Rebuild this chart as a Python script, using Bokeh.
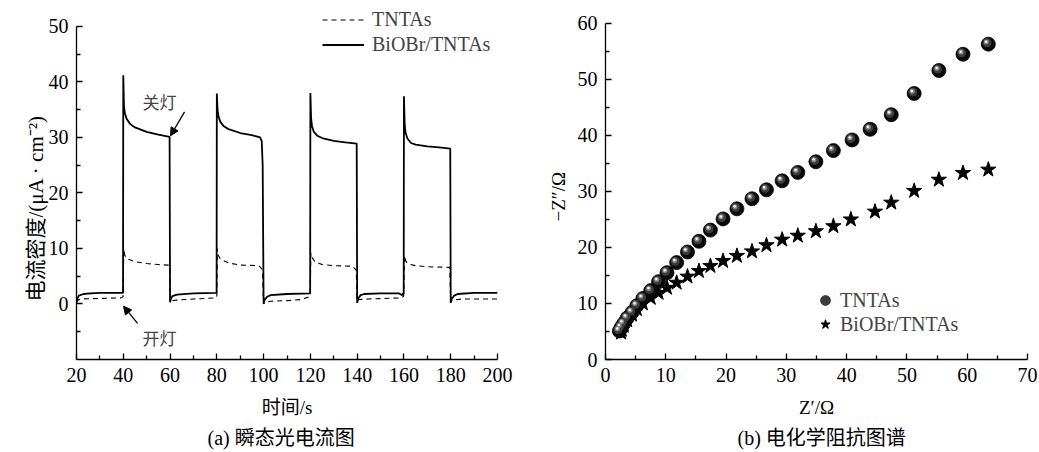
from bokeh.plotting import figure
from bokeh.layouts import row
from bokeh.models import (Range1d, FixedTicker, Legend, LegendItem, Label,
                          Arrow, NormalHead, ColumnDataSource, Title)
from bokeh.transform import dodge
from bokeh.embed import file_html
from bokeh.resources import INLINE

# ---------------- data: (a) transient photocurrent ----------------
t_biobr = [20, 20.4, 21, 23, 26, 30, 39.9,
           40.0, 40.3, 40.7, 41.5, 43, 45, 50, 55, 59.8,
           60.0, 60.3, 61, 63, 70, 79.9,
           80.0, 80.3, 80.7, 81.5, 83, 85, 90, 95, 98.5, 99.2, 99.6,
           100.0, 100.5, 101.5, 103, 110, 119.9,
           120.0, 120.3, 120.7, 121.5, 123, 125, 130, 135, 139.8,
           140.0, 140.4, 141.5, 143, 150, 158, 159.2, 159.9,
           160.0, 160.3, 160.7, 161.5, 163, 165, 170, 175, 179.8,
           180.0, 180.4, 181.5, 183, 190, 200]
j_biobr = [0.2, 1.0, 1.5, 1.8, 1.9, 2.0, 2.0,
           41.2, 35.5, 34.3, 33.3, 32.4, 31.8, 31.0, 30.5, 30.1,
           0.3, 0.9, 1.4, 1.7, 1.9, 2.0,
           37.9, 35.0, 33.8, 32.8, 32.0, 31.5, 30.8, 30.4, 30.0, 29.3, 25.0,
           0.1, 0.8, 1.3, 1.6, 1.8, 1.9,
           38.0, 33.5, 32.0, 31.0, 30.3, 29.9, 29.4, 29.1, 28.9,
           0.2, 1.0, 1.6, 1.8, 1.9, 1.9, 1.6, 2.0,
           37.4, 32.5, 30.8, 29.8, 29.0, 28.7, 28.4, 28.2, 28.0,
           0.2, 0.9, 1.5, 1.8, 2.0, 2.0]

t_tntas = [20, 20.5, 22, 30, 39, 39.9,
           40.2, 40.6, 41.5, 45, 50, 55, 59.3, 59.8,
           60.1, 60.6, 63, 70, 79.5, 80.0,
           80.2, 80.6, 81.5, 85, 90, 98, 99.5,
           100.0, 100.6, 103, 110, 116, 119, 119.9,
           120.2, 120.8, 122, 125, 130, 138, 139.6,
           140.0, 140.6, 145, 159, 159.9,
           160.2, 160.8, 162, 165, 170, 179.6,
           180.0, 180.6, 185, 200]
j_tntas = [0.3, 0.7, 0.9, 1.0, 1.1, 1.3,
           9.9, 8.8, 8.2, 7.6, 7.3, 7.1, 7.0, 6.2,
           0.3, 0.6, 0.7, 0.9, 1.1, 1.5,
           10.0, 8.8, 8.1, 7.4, 7.0, 6.9, 6.2,
           0.0, 0.3, 0.5, 0.6, 0.8, 1.2, 1.7,
           9.2, 8.3, 7.6, 7.1, 6.9, 6.8, 6.1,
           0.5, 0.8, 0.9, 1.1, 1.4,
           8.7, 7.7, 7.2, 6.9, 6.7, 6.6,
           0.3, 0.7, 0.9, 0.9]

# ---------------- data: (b) EIS Nyquist ----------------
zr_tntas = [2.3, 2.6, 3.0, 3.6, 4.4, 5.2, 6.2, 7.5, 8.8, 10.2, 11.8, 13.6,
            15.5, 17.4, 19.5, 21.8, 24.3, 26.7, 29.3, 31.9, 34.9, 37.8,
            40.9, 43.9, 47.4, 51.2, 55.3, 59.3, 63.5]
zi_tntas = [5.1, 5.7, 6.4, 7.4, 8.4, 9.6, 10.9, 12.3, 13.9, 15.5, 17.3, 19.2,
            21.1, 23.1, 25.1, 26.9, 28.7, 30.3, 31.9, 33.4, 35.3, 37.3,
            39.2, 41.1, 43.7, 47.5, 51.6, 54.5, 56.3]
zr_biobr = [2.6, 2.7, 3.0, 3.6, 4.4, 5.2, 6.2, 7.5, 8.8, 10.2, 11.8, 13.6,
            15.5, 17.4, 19.5, 21.8, 24.3, 26.7, 29.3, 31.9, 34.9, 37.8,
            40.7, 44.7, 47.4, 51.2, 55.3, 59.3, 63.5]
zi_biobr = [4.8, 5.3, 6.0, 7.0, 8.0, 9.0, 10.0, 11.0, 11.9, 12.8, 13.7, 14.8,
            15.8, 16.7, 17.6, 18.5, 19.3, 20.4, 21.4, 22.1, 22.9, 23.8,
            25.0, 26.4, 28.0, 30.1, 32.1, 33.3, 33.9]

x_ticks_a = [20, 40, 60, 80, 100, 120, 140, 160, 180, 200]
y_ticks_a = [0, 10, 20, 30, 40, 50]
x_ticks_b = [0, 10, 20, 30, 40, 50, 60, 70]
y_ticks_b = [0, 10, 20, 30, 40, 50, 60]

SERIF = "'Liberation Serif', 'Noto Sans CJK SC'"
CJK = "'Noto Sans CJK SC'"


def style(p, xt, xminor, yt, yminor):
    p.grid.visible = False
    p.outline_line_color = None
    p.xaxis.ticker = FixedTicker(ticks=xt, minor_ticks=xminor)
    p.yaxis.ticker = FixedTicker(ticks=yt, minor_ticks=yminor)
    for ax in (p.xaxis[0], p.yaxis[0]):
        ax.axis_line_width = 1.3
        ax.major_tick_line_width = 1.3
        ax.minor_tick_line_width = 1.3
        ax.major_tick_in = 6
        ax.major_tick_out = 0
        ax.minor_tick_in = 4
        ax.minor_tick_out = 0
        ax.major_label_text_font = "Liberation Serif"
        ax.major_label_text_font_size = "20px"
        ax.major_label_text_color = "black"
        ax.axis_label_text_font = SERIF
        ax.axis_label_text_font_size = "19px"
        ax.axis_label_text_font_style = "normal"
        ax.axis_label_text_color = "black"
        ax.major_label_standoff = 8
        ax.axis_label_standoff = 12


def side_title(text, offset, size, standoff):
    return Title(text=text, align="left", offset=offset, text_font=SERIF,
                 text_font_size=size, text_font_style="normal",
                 text_color="black", standoff=standoff)


# ---------------- figure (a) ----------------
pa = figure(width=523, height=452, output_backend="svg", toolbar_location=None,
            title=None,
            x_range=Range1d(20, 200), y_range=Range1d(-10, 53.95),
            min_border_left=76, min_border_right=26, min_border_top=4,
            min_border_bottom=92)
style(pa, x_ticks_a, [30, 50, 70, 90, 110, 130, 150, 170, 190],
      y_ticks_a, [-5, 5, 15, 25, 35, 45])
pa.yaxis.bounds = (-10, 50)
pa.yaxis.axis_label_standoff = 0
pa.xaxis.axis_label = "时间/s"
pa.add_layout(side_title("电流密度/(μA · cm⁻²)", 58, "21px", -4), "left")

r_t = pa.line(t_tntas, j_tntas, line_color="black", line_width=1.1,
              line_dash="5 4")
r_b = pa.line(t_biobr, j_biobr, line_color="black", line_width=1.8)

leg_a = Legend(items=[LegendItem(label="TNTAs", renderers=[r_t]),
                      LegendItem(label="BiOBr/TNTAs", renderers=[r_b])],
               location=(246, 302), glyph_width=42, glyph_height=25,
               label_height=25, spacing=0, padding=0, margin=0,
               border_line_color=None, background_fill_alpha=0,
               label_standoff=8, label_text_font="Liberation Serif",
               label_text_font_size="20px")
pa.add_layout(leg_a)

head = dict(size=8, fill_color="black", line_color="black")
pa.add_layout(Arrow(end=NormalHead(**head), x_start=66.2, y_start=34.6,
                    x_end=60.2, y_end=30.3, line_width=1.3))
pa.add_layout(Arrow(end=NormalHead(**head), x_start=46.1, y_start=-3.5,
                    x_end=40.1, y_end=-0.4, line_width=1.3))
pa.add_layout(Label(x=55.5, y=36.4, text="关灯", text_font=CJK,
                    text_font_size="17px", text_align="center",
                    text_baseline="middle"))
pa.add_layout(Label(x=55.5, y=-6.0, text="开灯", text_font=CJK,
                    text_font_size="17px", text_align="center",
                    text_baseline="middle"))
pa.add_layout(side_title("(a) 瞬态光电流图", 131, "20px", 8), "below")

# ---------------- figure (b) ----------------
pb = figure(width=516, height=452, output_backend="svg", toolbar_location=None,
            title=None,
            x_range=Range1d(0, 70), y_range=Range1d(0, 63.38),
            min_border_left=82, min_border_right=12, min_border_top=4,
            min_border_bottom=92)
style(pb, x_ticks_b, [5, 15, 25, 35, 45, 55, 65],
      y_ticks_b, [5, 15, 25, 35, 45, 55])
pb.yaxis.bounds = (0, 60)
pb.xaxis.axis_label = "Z′/Ω"
pb.add_layout(side_title("−Z″/Ω", 138, "19px", 12), "left")

src_t = ColumnDataSource(dict(x=zr_tntas, y=zi_tntas))
src_b = ColumnDataSource(dict(x=zr_biobr, y=zi_biobr))

rs = pb.scatter("x", "y", source=src_b, marker="star", size=16,
                fill_color="black", line_color="black")
c0 = pb.scatter("x", "y", source=src_t, marker="circle", size=14,
                fill_color="#0a0a0a", line_color="black", line_width=0.8)
c1 = pb.scatter(dodge("x", -0.22, range=pb.x_range),
                dodge("y", 0.25, range=pb.y_range), source=src_t,
                marker="circle", size=9, fill_color="#3c3c3c", line_color=None)
c2 = pb.scatter(dodge("x", -0.33, range=pb.x_range),
                dodge("y", 0.38, range=pb.y_range), source=src_t,
                marker="circle", size=5, fill_color="#8a8a8a", line_color=None)
c3 = pb.scatter(dodge("x", -0.38, range=pb.x_range),
                dodge("y", 0.45, range=pb.y_range), source=src_t,
                marker="circle", size=2.5, fill_color="#f4f4f4",
                line_color=None)

leg_b = Legend(items=[LegendItem(label="TNTAs", renderers=[c0, c1]),
                      LegendItem(label="BiOBr/TNTAs", renderers=[rs])],
               location=(208, 23), glyph_width=24, glyph_height=24,
               label_height=22, spacing=-2, padding=0, margin=0,
               border_line_color=None, background_fill_alpha=0,
               label_standoff=3, label_text_font="Liberation Serif",
               label_text_font_size="20px")
pb.add_layout(leg_b)
pb.add_layout(side_title("(b) 电化学阻抗图谱", 132, "20px", 8), "below")

layout = row(pa, pb)
open("out.html", "w").write(file_html(layout, INLINE))
